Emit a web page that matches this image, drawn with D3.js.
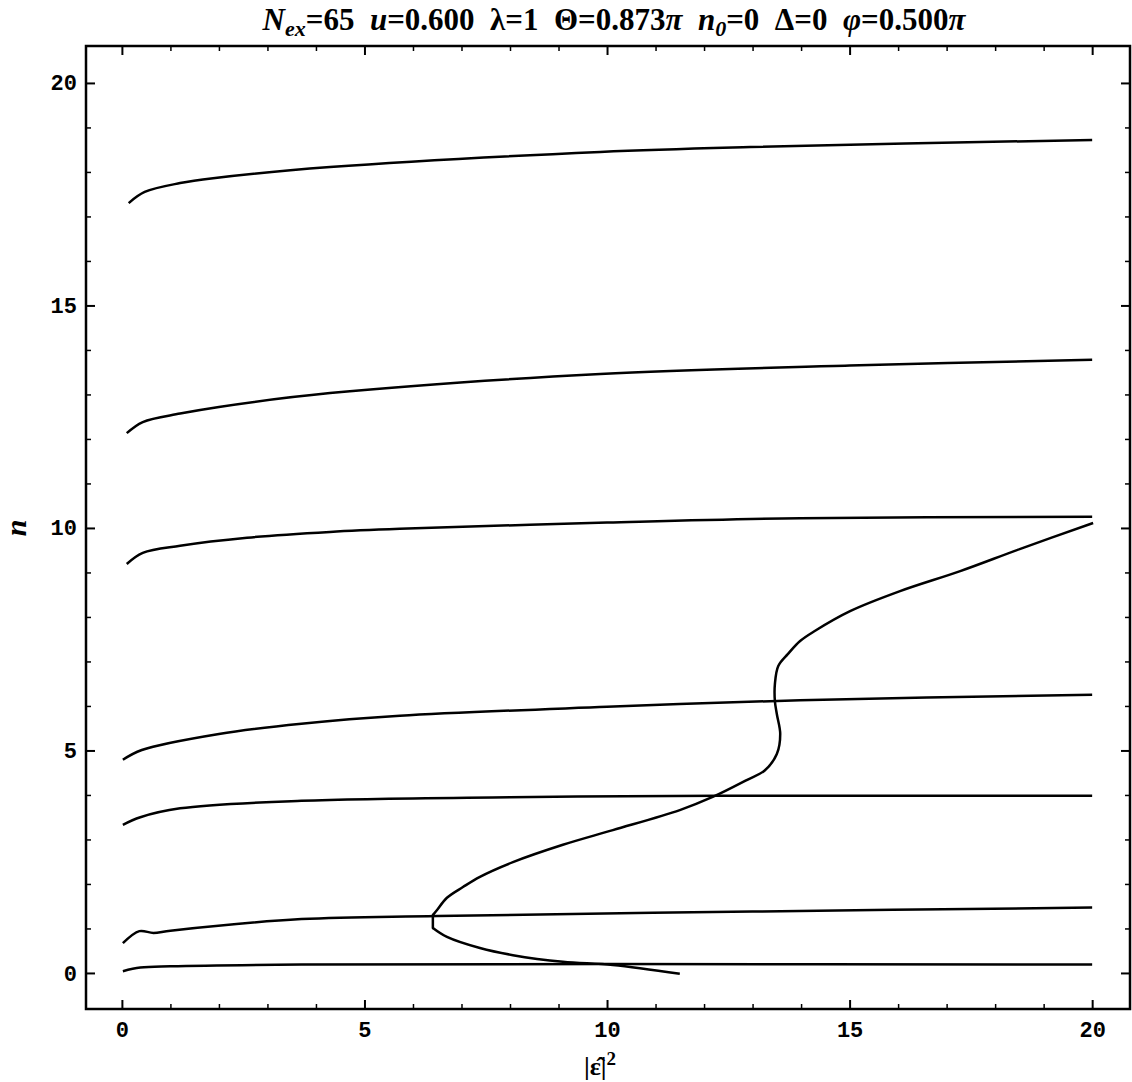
<!DOCTYPE html>
<html>
<head>
<meta charset="utf-8">
<script src="https://cdn.jsdelivr.net/npm/d3@7"></script>
<style>
  body { margin: 0; background: #fff; }
  text { fill: #000; }
</style>
</head>
<body>
<script>
var width = 1132;
var height = 1082;

// curves: [|eps|^2, n]
var curve1 = [[0.02, 0.04], [0.38, 0.12], [1, 0.15], [3.7, 0.19], [10, 0.2], [20, 0.19]];
var curve2 = [[0.02, 0.67], [0.36, 0.94], [0.65, 0.9], [1, 0.95], [3.7, 1.21], [6.5, 1.28], [13, 1.38], [20, 1.47]];
var curve3 = [[0.02, 3.33], [0.38, 3.5], [1.2, 3.7], [3.7, 3.87], [8, 3.95], [12.3, 3.98], [20, 3.98]];
var curve4 = [[0.02, 4.79], [0.41, 5.01], [2, 5.37], [3.7, 5.6], [5.73, 5.78], [10, 5.98], [13.98, 6.13], [20, 6.25]];
var curve5 = [[0.1, 9.19], [0.43, 9.44], [1.2, 9.6], [2.58, 9.78], [4.29, 9.91], [5.73, 9.98], [10, 10.12], [13.98, 10.22], [20, 10.25]];
var curve6 = [[0.1, 12.13], [0.43, 12.38], [1.2, 12.57], [2, 12.72], [4.29, 13.03], [9.86, 13.46], [15, 13.65], [20, 13.78]];
var curve7 = [[0.14, 17.3], [0.47, 17.55], [1.2, 17.75], [1.88, 17.86], [4.29, 18.11], [9.86, 18.45], [12.95, 18.56], [20, 18.72]];
var sLow = [[11.5, -0.02], [10.12, 0.18], [9.09, 0.25], [8.06, 0.4], [7.38, 0.56], [6.7, 0.81], [6.41, 1.01]];
var sHigh = [[6.41, 1.3], [6.5, 1.42], [6.7, 1.69], [7.03, 1.93], [7.38, 2.16], [8.06, 2.49], [9.09, 2.88], [10.12, 3.21],
  [11.5, 3.66], [12.19, 3.96], [12.89, 4.34], [13.25, 4.55], [13.5, 4.92], [13.57, 5.37], [13.5, 5.82],
  [13.46, 6.11], [13.46, 6.49], [13.53, 6.9], [13.73, 7.17], [13.98, 7.46], [14.29, 7.69], [15.01, 8.13],
  [16.04, 8.58], [17.28, 9.03], [18.52, 9.53], [20.02, 10.11]];

var curves = [curve1, curve2, curve3, curve4, curve5, curve6, curve7];

var xTicks = [0, 5, 10, 15, 20];
var yTicks = [0, 5, 10, 15, 20];

var x = d3.scaleLinear().domain([-0.74, 20.78]).range([86, 1130]);
var y = d3.scaleLinear().domain([-0.81, 20.83]).range([1009, 46]);

var svg = d3.select("body")
    .append("svg")
        .attr("width", width)
        .attr("height", height);

var minorX = d3.range(0, 21, 1).filter(function(d) { return d % 5 != 0; });
var minorY = d3.range(0, 21, 1).filter(function(d) { return d % 5 != 0; });

// bottom axis with labels
svg.append("g")
    .attr("transform", "translate(0," + 1009 + ")")
    .call(d3.axisBottom(x).tickValues(xTicks).tickSizeInner(-9).tickSizeOuter(0).tickPadding(12))
    .call(function(g) {
      g.select(".domain").remove();
      g.selectAll("line").attr("stroke-width", 2);
      g.selectAll("text").attr("font-family", "Liberation Mono").attr("font-weight", "bold")
        .attr("font-size", 22).attr("fill", "#000");
    });
svg.append("g")
    .attr("transform", "translate(0," + 1009 + ")")
    .call(d3.axisBottom(x).tickValues(minorX).tickSizeInner(-5).tickSizeOuter(0).tickFormat(""))
    .call(function(g) { g.select(".domain").remove(); g.selectAll("line").attr("stroke-width", 1.5); });

// top axis (no labels)
svg.append("g")
    .attr("transform", "translate(0," + 46 + ")")
    .call(d3.axisTop(x).tickValues(xTicks).tickSizeInner(-9).tickSizeOuter(0).tickFormat(""))
    .call(function(g) { g.select(".domain").remove(); g.selectAll("line").attr("stroke-width", 2); });
svg.append("g")
    .attr("transform", "translate(0," + 46 + ")")
    .call(d3.axisTop(x).tickValues(minorX).tickSizeInner(-5).tickSizeOuter(0).tickFormat(""))
    .call(function(g) { g.select(".domain").remove(); g.selectAll("line").attr("stroke-width", 1.5); });

// left axis with labels
svg.append("g")
    .attr("transform", "translate(" + 86 + ",0)")
    .call(d3.axisLeft(y).tickValues(yTicks).tickSizeInner(-9).tickSizeOuter(0).tickPadding(9))
    .call(function(g) {
      g.select(".domain").remove();
      g.selectAll("line").attr("stroke-width", 2);
      g.selectAll("text").attr("font-family", "Liberation Mono").attr("font-weight", "bold")
        .attr("font-size", 22).attr("fill", "#000");
    });
svg.append("g")
    .attr("transform", "translate(" + 86 + ",0)")
    .call(d3.axisLeft(y).tickValues(minorY).tickSizeInner(-5).tickSizeOuter(0).tickFormat(""))
    .call(function(g) { g.select(".domain").remove(); g.selectAll("line").attr("stroke-width", 1.5); });

// right axis (no labels)
svg.append("g")
    .attr("transform", "translate(" + 1130 + ",0)")
    .call(d3.axisRight(y).tickValues(yTicks).tickSizeInner(-9).tickSizeOuter(0).tickFormat(""))
    .call(function(g) { g.select(".domain").remove(); g.selectAll("line").attr("stroke-width", 2); });
svg.append("g")
    .attr("transform", "translate(" + 1130 + ",0)")
    .call(d3.axisRight(y).tickValues(minorY).tickSizeInner(-5).tickSizeOuter(0).tickFormat(""))
    .call(function(g) { g.select(".domain").remove(); g.selectAll("line").attr("stroke-width", 1.5); });

// frame
svg.append("rect")
    .attr("x", 86)
    .attr("y", 46)
    .attr("width", 1130 - 86)
    .attr("height", 1009 - 46)
    .attr("fill", "none")
    .attr("stroke", "black")
    .attr("stroke-width", 2.5);

var line = d3.line()
    .curve(d3.curveCatmullRom.alpha(0.5))
    .x(function(d) { return x(d[0]); })
    .y(function(d) { return y(d[1]); });

svg.selectAll("path.branch")
    .data(curves)
    .enter()
    .append("path")
      .attr("class", "branch")
      .attr("d", line)
      .attr("fill", "none")
      .attr("stroke", "black")
      .attr("stroke-width", 2.5);

// S shaped branch: two smooth pieces joined by a short straight step at the turning point
var sLine = d3.line()
    .x(function(d) { return x(d[0]); })
    .y(function(d) { return y(d[1]); });

svg.append("path")
    .datum(sLow)
    .attr("d", line)
    .attr("fill", "none")
    .attr("stroke", "black")
    .attr("stroke-width", 2.5);
svg.append("path")
    .datum([sLow[sLow.length - 1], sHigh[0]])
    .attr("d", sLine)
    .attr("fill", "none")
    .attr("stroke", "black")
    .attr("stroke-width", 2.5)
    .attr("stroke-linecap", "round");
svg.append("path")
    .datum(sHigh)
    .attr("d", line)
    .attr("fill", "none")
    .attr("stroke", "black")
    .attr("stroke-width", 2.5);

// title
var title = svg.append("text")
    .attr("x", 614)
    .attr("y", 30)
    .attr("text-anchor", "middle")
    .attr("font-family", "Liberation Serif")
    .attr("font-weight", "bold")
    .attr("font-size", 31)
    .attr("xml:space", "preserve");
title.append("tspan").attr("font-style", "italic").text("N");
title.append("tspan").attr("font-style", "italic").attr("font-size", 22).attr("dy", 6).text("ex");
title.append("tspan").attr("dy", -6).text("=65  ");
title.append("tspan").attr("font-style", "italic").text("u");
title.append("tspan").text("=0.600  λ=1  Θ=0.873");
title.append("tspan").attr("font-style", "italic").text("π");
title.append("tspan").text("  ");
title.append("tspan").attr("font-style", "italic").text("n");
title.append("tspan").attr("font-style", "italic").attr("font-size", 22).attr("dy", 6).text("0");
title.append("tspan").attr("dy", -6).text("=0  Δ=0  ");
title.append("tspan").attr("font-style", "italic").text("φ");
title.append("tspan").text("=0.500");
title.append("tspan").attr("font-style", "italic").text("π");

// axis labels
var xl = svg.append("text")
    .attr("x", 600)
    .attr("y", 1075)
    .attr("text-anchor", "middle")
    .attr("font-family", "Liberation Serif")
    .attr("font-weight", "bold")
    .attr("font-size", 26);
xl.append("tspan").text("|ε̂|");
xl.append("tspan").attr("font-size", 19).attr("dy", -10).text("2");

svg.append("text")
    .attr("transform", "translate(26,528) rotate(-90)")
    .attr("text-anchor", "middle")
    .attr("font-family", "Liberation Serif")
    .attr("font-weight", "bold")
    .attr("font-style", "italic")
    .attr("font-size", 30)
    .text("n");
</script>
</body>
</html>
